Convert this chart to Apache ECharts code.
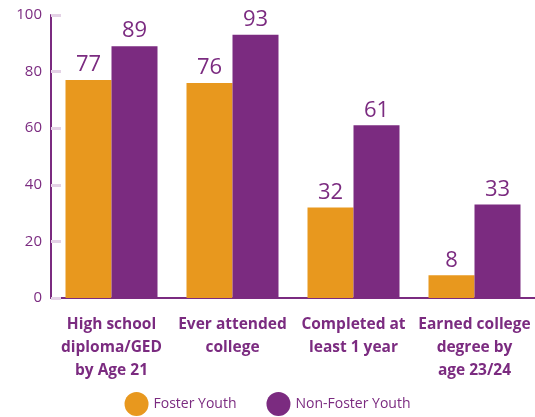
<!DOCTYPE html>
<html>
<head>
<meta charset="utf-8">
<script src="https://cdn.jsdelivr.net/npm/echarts@6/dist/echarts.min.js"></script>
<style>
  html, body { margin: 0; padding: 0; background: #fff; }
  #chart { width: 535px; height: 417px; }
</style>
</head>
<body>
<div id="chart"></div>
<script>
const categories = [
  'High school\ndiploma/GED\nby Age 21',
  'Ever attended\ncollege',
  'Completed at\nleast 1 year',
  'Earned college\ndegree by\nage 23/24'
];
const fosterYouth = [77, 76, 32, 8];
const nonFosterYouth = [89, 93, 61, 33];
const yTicks = [0, 20, 40, 60, 80, 100];

const purple = '#7B2B80';
const orange = '#E8981E';
const lightTick = '#E4D2E6';
const font = '"Open Sans", "Noto Sans", sans-serif';

const chart = echarts.init(document.getElementById('chart'));

chart.setOption({
  animation: false,
  grid: { left: 51, right: 0, top: 15, bottom: 119 },
  legend: {
    bottom: -4,
    left: 'center',
    itemWidth: 24,
    itemHeight: 24,
    itemGap: 30,
    icon: 'circle',
    textStyle: { color: purple, fontSize: 14, fontFamily: font }
  },
  xAxis: {
    type: 'category',
    data: categories,
    axisLine: { lineStyle: { color: purple, width: 2 } },
    axisTick: { inside: true, length: 6, lineStyle: { color: lightTick, width: 2 } },
    axisLabel: {
      interval: 0,
      color: purple,
      fontSize: 15.5,
      fontWeight: 'bold',
      fontFamily: font,
      lineHeight: 23,
      margin: 15
    }
  },
  yAxis: {
    type: 'value',
    min: yTicks[0],
    max: yTicks[yTicks.length - 1],
    interval: 20,
    splitLine: { show: false },
    axisLine: { show: true, lineStyle: { color: purple, width: 2 } },
    axisTick: { show: true, inside: true, length: 10, lineStyle: { color: lightTick, width: 3 } },
    axisLabel: { color: purple, fontSize: 15, fontFamily: font, margin: 9 }
  },
  series: [
    {
      name: 'Foster Youth',
      type: 'bar',
      data: fosterYouth,
      barWidth: 46,
      barGap: '0%',
      itemStyle: { color: orange },
      label: { show: true, position: 'top', distance: 4, color: purple, fontSize: 22, fontFamily: font }
    },
    {
      name: 'Non-Foster Youth',
      type: 'bar',
      data: nonFosterYouth,
      barWidth: 46,
      itemStyle: { color: purple },
      label: { show: true, position: 'top', distance: 4, color: purple, fontSize: 22, fontFamily: font }
    }
  ]
});
</script>
</body>
</html>
